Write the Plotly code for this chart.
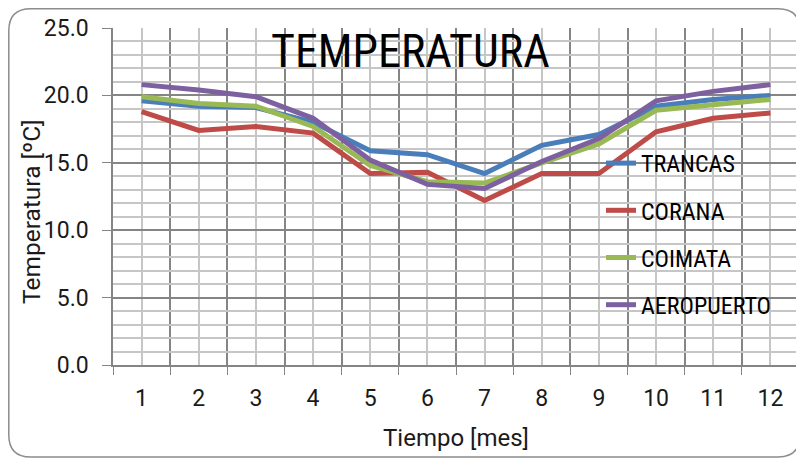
import plotly.graph_objects as go

# Monthly mean temperature per station
months = list(range(1, 13))
month_labels = [str(m) for m in months]

trancas = [19.6, 19.2, 19.1, 18.0, 15.9, 15.6, 14.2, 16.3, 17.1, 19.2, 19.7, 20.0]
corana = [18.8, 17.4, 17.7, 17.2, 14.2, 14.3, 12.2, 14.2, 14.2, 17.3, 18.3, 18.7]
coimata = [19.9, 19.4, 19.2, 17.7, 14.8, 13.6, 13.5, 15.0, 16.4, 18.9, 19.3, 19.7]
aeropuerto = [20.8, 20.4, 19.9, 18.3, 15.2, 13.4, 13.1, 15.1, 16.8, 19.6, 20.3, 20.8]

series = [
    ("TRANCAS", trancas, "#4A7EBB"),
    ("CORANA", corana, "#BE4B48"),
    ("COIMATA", coimata, "#98B954"),
    ("AEROPUERTO", aeropuerto, "#7D60A0"),
]

NARROW = "Liberation Sans Narrow, Arial Narrow, Roboto Condensed, Roboto, sans-serif"
BASE = "Roboto, Liberation Sans, sans-serif"
MAJOR = "#858585"
MINOR = "#c6c6c6"

fig = go.Figure()

for name, vals, color in series:
    fig.add_trace(go.Scatter(
        x=months,
        y=vals,
        mode='lines',
        name=name,
        legendgroup=name,
        line=dict(color=color, width=5),
    ))

# page body has an 8px margin, so work in page pixels shifted by 8
OFF = 8
W, H = 796, 454
L, R, T, B = 105, 5, 20, 97
pw, ph = W - L - R, H - T - B


def px(x):
    # page pixel -> paper x
    return (x - OFF - L) / pw


def py(y):
    # page pixel -> paper y
    return (H - B - (y - OFF)) / ph


# rounded outer frame
x0, x1, y0, y1, r = 8.8, 800, 8.8, 457, 22
frame = (
    f"M {px(x0 + r)},{py(y0)} L {px(x1 - r)},{py(y0)} "
    f"Q {px(x1)},{py(y0)} {px(x1)},{py(y0 + r)} "
    f"L {px(x1)},{py(y1 - r)} Q {px(x1)},{py(y1)} {px(x1 - r)},{py(y1)} "
    f"L {px(x0 + r)},{py(y1)} Q {px(x0)},{py(y1)} {px(x0)},{py(y1 - r)} "
    f"L {px(x0)},{py(y0 + r)} Q {px(x0)},{py(y0)} {px(x0 + r)},{py(y0)} Z"
)
fig.add_shape(type='path', path=frame, xref='paper', yref='paper',
              line=dict(color='#8c8c8c', width=1.5), layer='below')

fig.add_annotation(
    text="TEMPERATURA", x=px(410), y=py(51), xref='paper', yref='paper',
    xanchor='center', yanchor='middle', showarrow=False,
    font=dict(family=NARROW, size=46, color='black'),
)

# y title as annotation (sits a bit below the plot centre in the original)
fig.add_annotation(
    text="Temperatura [ºC]", x=px(31), y=py(212), xref='paper', yref='paper',
    xanchor='center', yanchor='middle', showarrow=False, textangle=-90,
    font=dict(family=BASE, size=24.5, color='#1a1a1a'),
)

fig.update_layout(
    width=W,
    height=H,
    margin=dict(l=L, r=R, t=T, b=B),
    paper_bgcolor='white',
    plot_bgcolor='white',
    font=dict(family=BASE, color='#1a1a1a'),
    showlegend=True,
    legend=dict(
        x=px(601), y=py(141), xanchor='left', yanchor='top',
        bgcolor='rgba(0,0,0,0)',
        font=dict(family=NARROW, size=24, color='black'),
        tracegroupgap=13,
    ),
    xaxis=dict(
        range=[0.5, 12.5],
        tickmode='array',
        tickvals=months,
        ticktext=month_labels,
        ticks='',
        ticklabelstandoff=12,
        showgrid=True,
        gridcolor=MINOR,
        gridwidth=1.5,
        showline=True,
        linecolor=MAJOR,
        linewidth=1.5,
        zeroline=False,
        tickfont=dict(size=23),
        title=dict(text="Tiempo [mes]", font=dict(size=24), standoff=18),
        minor=dict(tickmode='linear', tick0=0.5, dtick=1, ticks='outside',
                   ticklen=8, tickcolor=MAJOR, showgrid=True,
                   gridcolor=MAJOR, gridwidth=1.5),
    ),
    yaxis=dict(
        range=[0, 25],
        dtick=5,
        tickformat='.1f',
        ticks='outside',
        ticklen=9,
        tickcolor=MAJOR,
        ticklabelstandoff=9,
        showgrid=True,
        gridcolor=MAJOR,
        gridwidth=1.5,
        showline=True,
        linecolor=MAJOR,
        linewidth=1.5,
        zeroline=False,
        tickfont=dict(size=23),
        minor=dict(dtick=1, showgrid=True, gridcolor=MINOR, gridwidth=1.5,
                   ticks=''),
    ),
)

fig.write_html("out.html")
